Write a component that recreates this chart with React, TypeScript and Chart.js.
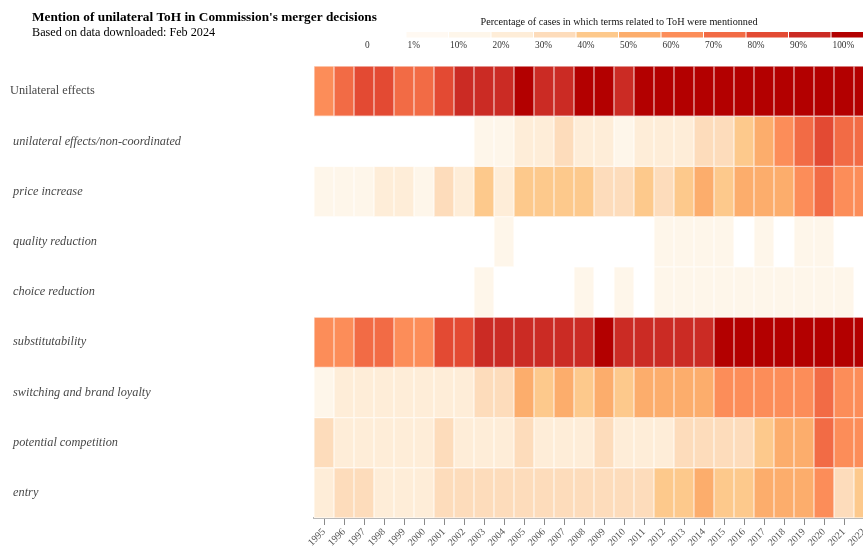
import React, { useEffect, useRef } from 'react';
import { Chart, registerables } from 'chart.js';

Chart.register(...registerables);

const titleText = "Mention of unilateral ToH in Commission's merger decisions";
const subtitleText = 'Based on data downloaded: Feb 2024';
const legendTitle = 'Percentage of cases in which terms related to ToH were mentionned';

const years = [
  '1995', '1996', '1997', '1998', '1999', '2000', '2001', '2002', '2003', '2004',
  '2005', '2006', '2007', '2008', '2009', '2010', '2011', '2012', '2013', '2014',
  '2015', '2016', '2017', '2018', '2019', '2020', '2021', '2022',
];

const rowLabels = [
  'Unilateral effects',
  'unilateral effects/non-coordinated',
  'price increase',
  'quality reduction',
  'choice reduction',
  'substitutability',
  'switching and brand loyalty',
  'potential competition',
  'entry',
];

// Percentage of cases (estimated from colour bins), 1995..2022
const unilateralEffects = [65, 75, 85, 85, 75, 75, 85, 95, 95, 95, 100, 95, 95, 100, 100, 95, 100, 100, 100, 100, 100, 100, 100, 100, 100, 100, 100, 100];
const nonCoordinated = [0, 0, 0, 0, 0, 0, 0, 0, 15, 15, 25, 25, 35, 25, 25, 15, 25, 25, 25, 35, 35, 45, 55, 65, 75, 85, 75, 75];
const priceIncrease = [15, 15, 15, 25, 25, 15, 35, 25, 45, 25, 45, 45, 45, 45, 35, 35, 45, 35, 45, 55, 45, 55, 55, 55, 65, 75, 65, 65];
const qualityReduction = [0, 0, 0, 0, 0, 0, 0, 0, 0, 15, 0, 0, 0, 0, 0, 0, 0, 15, 15, 15, 15, 0, 15, 0, 15, 15, 0, 0];
const choiceReduction = [0, 0, 0, 0, 0, 0, 0, 0, 15, 0, 0, 0, 0, 15, 0, 15, 0, 15, 15, 15, 15, 15, 15, 15, 15, 15, 15, 0];
const substitutability = [65, 65, 75, 75, 65, 65, 85, 85, 95, 95, 95, 95, 95, 95, 100, 95, 95, 95, 95, 95, 100, 100, 100, 100, 100, 100, 100, 100];
const switchingLoyalty = [15, 25, 25, 25, 25, 25, 25, 25, 35, 35, 55, 45, 55, 45, 55, 45, 55, 55, 55, 55, 65, 65, 65, 65, 65, 75, 65, 65];
const potentialCompetition = [35, 25, 25, 25, 25, 25, 35, 25, 25, 25, 35, 25, 25, 25, 35, 25, 25, 25, 35, 35, 35, 35, 45, 55, 55, 75, 65, 65];
const entry = [25, 35, 35, 25, 25, 25, 35, 35, 35, 35, 35, 35, 35, 35, 35, 35, 35, 45, 45, 55, 45, 45, 55, 55, 55, 65, 35, 45];

const rows = [
  unilateralEffects, nonCoordinated, priceIncrease, qualityReduction, choiceReduction,
  substitutability, switchingLoyalty, potentialCompetition, entry,
];

const legendLabels = ['0', '1%', '10%', '20%', '30%', '40%', '50%', '60%', '70%', '80%', '90%', '100%'];
const thresholds = [0, 1, 10, 20, 30, 40, 50, 60, 70, 80, 90, 100];
const palette = [
  '#ffffff', '#fff9f2', '#fef6ea', '#feedd8', '#fddcbb', '#fdc98c',
  '#fcad6c', '#fc8d59', '#f26b45', '#e34a33', '#cb2b24', '#b30000',
];

const FONT = '"Liberation Serif", "Times New Roman", serif';

function colorFor(v: number): string {
  if (v <= 0) return palette[0];
  let idx = 0;
  for (let i = 0; i < thresholds.length; i++) if (v >= thresholds[i]) idx = i;
  return palette[idx];
}

function blend(hex: string, t = 0.5): string {
  const n = parseInt(hex.slice(1), 16);
  const r = (n >> 16) & 255, g = (n >> 8) & 255, b = n & 255;
  const m = (c: number) => Math.round(c + (255 - c) * t);
  return `rgb(${m(r)},${m(g)},${m(b)})`;
}

const headerPlugin = {
  id: 'headerLegend',
  afterDraw(chart: any) {
    const { ctx, chartArea } = chart;
    ctx.save();
    ctx.textBaseline = 'alphabetic';
    ctx.textAlign = 'left';
    ctx.fillStyle = '#000';
    ctx.font = `bold 13.3px ${FONT}`;
    ctx.fillText(titleText, 32, 21);
    ctx.font = `12.2px ${FONT}`;
    ctx.fillText(subtitleText, 32, 36);

    const n = legendLabels.length;
    const step = 42.5;
    const x0 = chartArea.right - n * step;
    ctx.font = `10.2px ${FONT}`;
    ctx.textAlign = 'center';
    ctx.fillStyle = '#111';
    ctx.fillText(legendTitle, x0 + (n * step) / 2, 25);
    for (let i = 0; i < n; i++) {
      const x = x0 + i * step;
      ctx.fillStyle = palette[i];
      ctx.fillRect(x, 32, step - 1, 5.5);
      ctx.fillStyle = '#333';
      ctx.textAlign = 'left';
      ctx.font = `9.3px ${FONT}`;
      ctx.fillText(legendLabels[i], x + 1, 48);
    }
    ctx.restore();
  },
};

export default function App() {
  const ref = useRef<HTMLCanvasElement>(null);

  useEffect(() => {
    document.body.style.margin = '0';
    const canvas = ref.current;
    if (!canvas) return;
    const chart = new Chart(canvas, {
      type: 'bar',
      data: {
        labels: years,
        datasets: rows.map((vals, i) => ({
          label: rowLabels[i],
          data: vals.map(() => 1),
          backgroundColor: vals.map(colorFor),
          borderColor: vals.map((v) => blend(colorFor(v), 0.65)),
          borderWidth: 1,
          borderSkipped: false,
          barPercentage: 1,
          categoryPercentage: 1,
        })),
      },
      options: {
        responsive: false,
        animation: false,
        devicePixelRatio: 1,
        events: [],
        layout: { padding: { top: 66, left: 10, right: 10, bottom: 0 } },
        plugins: {
          legend: { display: false },
          tooltip: { enabled: false },
          title: { display: false },
        },
        scales: {
          x: {
            type: 'category',
            stacked: true,
            offset: true,
            grid: {
              offset: false,
              drawOnChartArea: false,
              drawTicks: true,
              tickLength: 7,
              color: '#8a8a8a',
            },
            border: { display: true, color: '#b8b8b8', width: 2 },
            ticks: {
              autoSkip: false,
              maxRotation: 45,
              minRotation: 45,
              padding: 1,
              color: '#555',
              font: { family: FONT, size: 10 },
            },
            afterFit: (s: any) => {
              s.height = 29;
              s.paddingLeft = 0;
              s.paddingRight = 0;
            },
          },
          y: {
            type: 'linear',
            stacked: true,
            reverse: true,
            min: 0,
            max: rowLabels.length,
            grid: { display: false },
            border: { display: false },
            afterBuildTicks: (axis: any) => {
              axis.ticks = rowLabels.map((_, i) => ({ value: i + 0.5 }));
            },
            ticks: {
              autoSkip: false,
              padding: 0,
              crossAlign: 'far',
              color: '#484848',
              font: (c: any) => ({ family: FONT, size: 12.3, style: c.index === 0 ? 'normal' : 'italic' }),
              callback: (v: any) => {
                const i = Math.floor(Number(v));
                return i === 0 ? rowLabels[i] : ' ' + rowLabels[i];
              },
            },
            afterFit: (s: any) => {
              s.width = 304;
              s.paddingTop = 0;
              s.paddingBottom = 0;
            },
          },
        },
      },
      plugins: [headerPlugin],
    } as any);
    return () => chart.destroy();
  }, []);

  return (
    <div style={{ width: 863, height: 547, overflow: 'hidden', position: 'relative' }}>
      <canvas ref={ref} width={884} height={547} style={{ display: 'block' }} />
    </div>
  );
}
